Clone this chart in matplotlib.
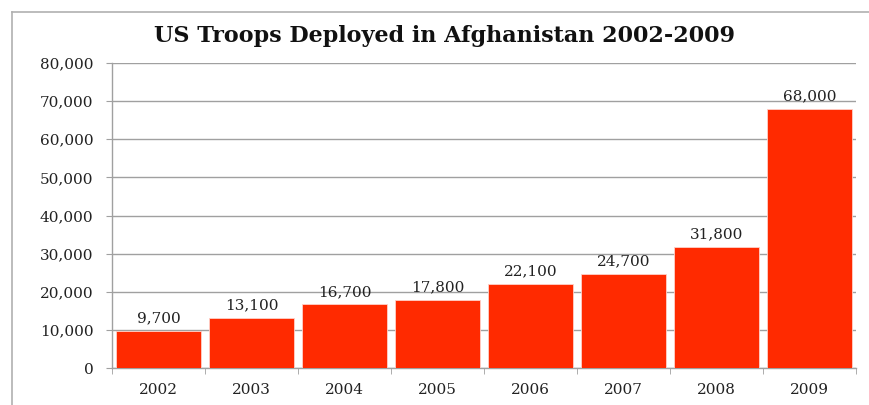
import matplotlib
matplotlib.use("Agg")
import matplotlib.pyplot as plt
from matplotlib.lines import Line2D
from matplotlib.ticker import FuncFormatter

# data
years = ['2002', '2003', '2004', '2005', '2006', '2007', '2008', '2009']
troops = [9700, 13100, 16700, 17800, 22100, 24700, 31800, 68000]
y_ticks = [0, 10000, 20000, 30000, 40000, 50000, 60000, 70000, 80000]

plt.rcParams['font.family'] = ['DejaVu Serif']

W, H = 869, 405
fig = plt.figure(figsize=(W / 100, H / 100), dpi=100)
ax = fig.add_axes([112 / W, 1 - 368 / H, (856 - 112) / W, (368 - 63) / H])

x = list(range(len(years)))
ax.bar(x, troops, width=0.92, color='#ff2a00', edgecolor='#ffd0c8', linewidth=0.6, zorder=3)

for xi, v in zip(x, troops):
    ax.annotate('{:,}'.format(v), (xi, v), xytext=(0, 9), textcoords='offset points',
                ha='center', va='center', fontsize=11, color='#222222')

ax.set_xlim(-0.5, len(years) - 0.5)
ax.set_ylim(0, 80000)
ax.set_yticks(y_ticks)
ax.yaxis.set_major_formatter(FuncFormatter(lambda v, p: '{:,}'.format(int(v))))
ax.set_xticks(x)
ax.set_xticklabels(years)
ax.set_xticks([i - 0.5 for i in range(len(years) + 1)], minor=True)
ax.tick_params(axis='x', which='major', length=0, pad=11, labelsize=11, colors='#222222')
ax.tick_params(axis='x', which='minor', length=4, color='#a0a0a0', direction='out')
ax.tick_params(axis='y', length=4.5, pad=9, labelsize=11, labelcolor='#222222', color='#a0a0a0')

ax.grid(axis='y', color='#a0a0a0', linewidth=1, zorder=0)
for s in ['top', 'right']:
    ax.spines[s].set_visible(False)
for s in ['left', 'bottom']:
    ax.spines[s].set_color('#a0a0a0')
    ax.spines[s].set_linewidth(1)

fig.suptitle('US Troops Deployed in Afghanistan 2002-2009', x=444 / W, y=1 - 36 / H,
             va='center', fontsize=16, fontweight='bold', color='#111111')

# outer chart frame
fig.add_artist(Line2D([12 / W, 1], [1 - 12 / H, 1 - 12 / H], color='#b0b0b0', linewidth=1.2))
fig.add_artist(Line2D([12 / W, 12 / W], [0, 1 - 12 / H], color='#b0b0b0', linewidth=1.2))

fig.savefig('out.png', dpi=100)
